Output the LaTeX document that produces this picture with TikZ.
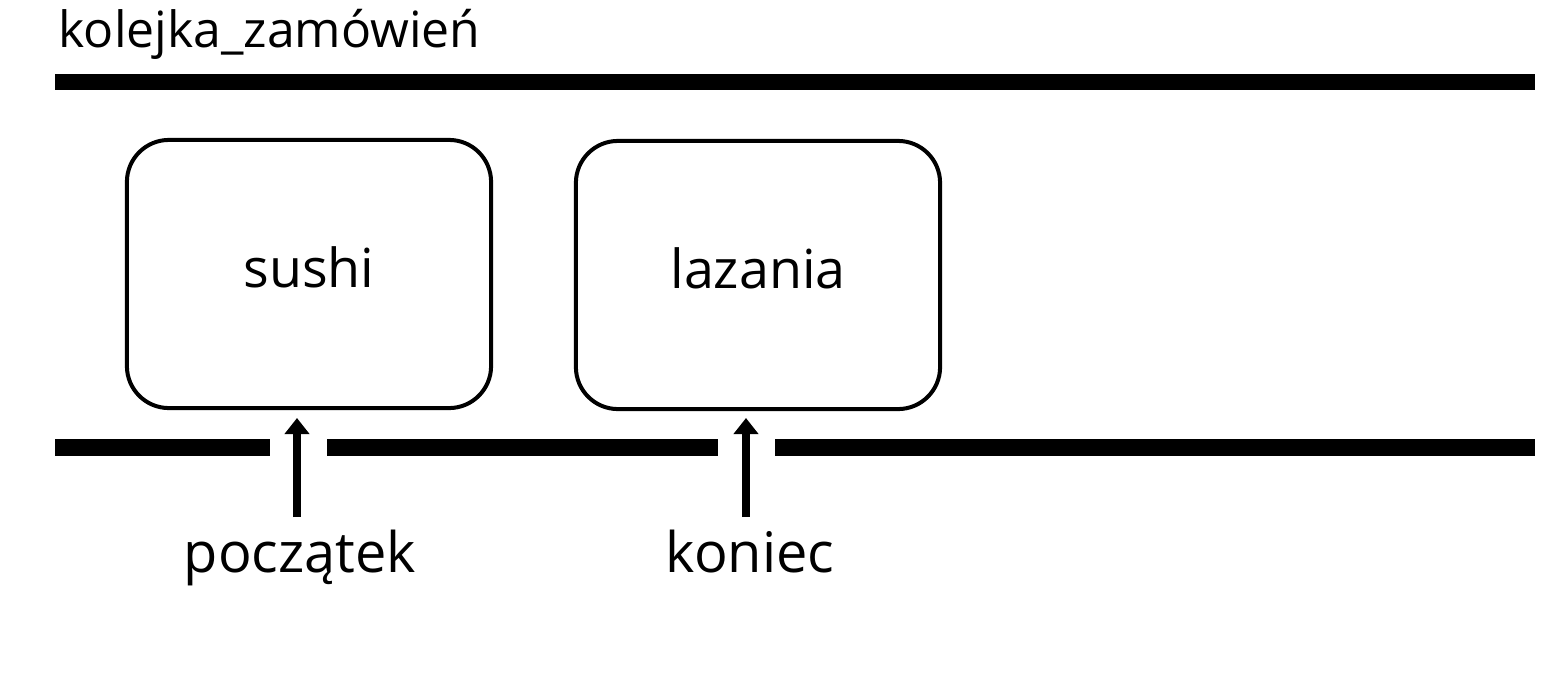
\documentclass[tikz,border=0pt]{standalone}
\usepackage{fontspec}
\setmainfont{Open Sans}
\usetikzlibrary{arrows.meta}

\begin{document}
\begin{tikzpicture}[x=0.01cm,y=-0.01cm,
    foodbox/.style={draw,line width=0.04cm,rounded corners=0.42cm,text depth=0.14cm,
      minimum width=3.64cm,minimum height=2.68cm,font=\fontsize{15.3}{18}\selectfont},
    pointer/.style={font=\fontsize{15.9}{19}\selectfont,anchor=base},
    rail/.style={fill=black},
    ptrarrow/.style={-{Triangle[width=0.24cm,length=0.16cm]},line width=0.07cm}]
  \useasboundingbox (0,0) rectangle (1556,672);
  \node[anchor=base west,font=\fontsize{14.2}{17}\selectfont,inner sep=0pt] (title) at (58,47) {kolejka\_zamówień};
  % the two rails of the queue, the lower one broken where the arrows pass
  \fill[rail] (55,74) rectangle (1535,90);
  \fill[rail] (55,439) rectangle (270,456);
  \fill[rail] (327,439) rectangle (718,456);
  \fill[rail] (775,439) rectangle (1535,456);
  \node[foodbox] (sushi) at (309,274) {sushi};
  \node[foodbox] (lazania) at (758,275) {lazania};
  \node[pointer] (poczatek) at (300,572) {początek};
  \node[pointer] (koniec) at (750,572) {koniec};
  \coordinate (poczatekTail) at (297,517);
  \coordinate (koniecTail) at (746,517);
  \draw[ptrarrow] (poczatekTail) -- (poczatekTail |- 0,418);
  \draw[ptrarrow] (koniecTail) -- (koniecTail |- 0,418);
\end{tikzpicture}
\end{document}
